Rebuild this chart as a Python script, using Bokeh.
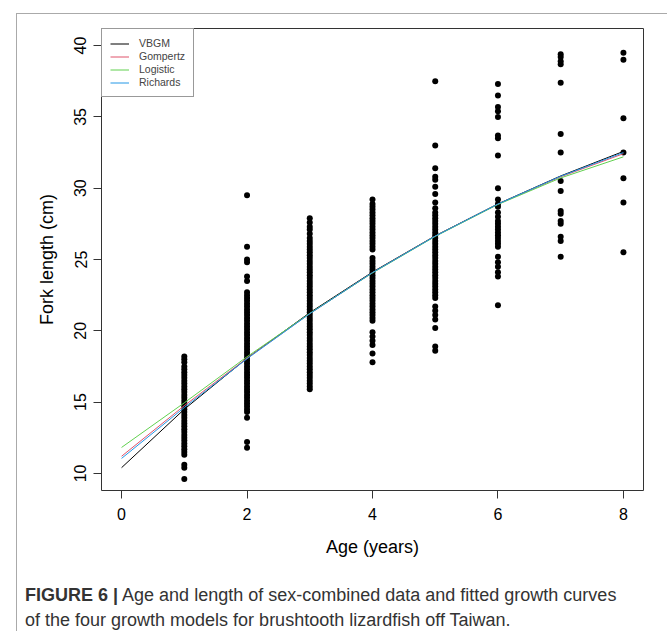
from bokeh.plotting import figure
from bokeh.layouts import column
from bokeh.models import FixedTicker, Legend, LegendItem, Div
from bokeh.embed import file_html
from bokeh.resources import INLINE

# ---------------- data ----------------
x_ticks = [0, 2, 4, 6, 8]
y_ticks = [10, 15, 20, 25, 30, 35, 40]

fl_age1 = [18.2, 18.0, 17.8, 17.5, 17.3, 17.1, 16.9, 16.7, 16.5, 16.3, 16.1, 15.9,
           15.7, 15.5, 15.3, 15.1, 14.9, 14.7, 14.5, 14.3, 14.1, 13.9, 13.7, 13.5,
           13.3, 13.1, 12.9, 12.7, 12.5, 12.3, 12.1, 11.9, 11.7, 11.5, 11.3, 10.6,
           10.4, 9.6]
fl_age2 = [29.5, 25.9, 25.0, 24.8, 23.8, 23.5, 22.7, 22.5, 22.3, 22.1, 21.9, 21.7,
           21.5, 21.3, 21.1, 20.9, 20.7, 20.5, 20.3, 20.1, 19.9, 19.7, 19.5, 19.3,
           19.1, 18.9, 18.7, 18.5, 18.3, 18.1, 17.9, 17.7, 17.5, 17.3, 17.1, 16.9,
           16.7, 16.5, 16.3, 16.1, 15.9, 15.7, 15.5, 15.3, 15.1, 14.9, 14.7, 14.5,
           14.3, 13.9, 12.2, 11.8]
fl_age3 = [27.9, 27.6, 27.3, 27.1, 26.8, 26.5, 26.3, 26.1, 25.9, 25.7, 25.5, 25.3,
           25.1, 24.9, 24.7, 24.5, 24.3, 24.1, 23.9, 23.7, 23.5, 23.3, 23.1, 22.9,
           22.7, 22.5, 22.3, 22.1, 21.9, 21.7, 21.5, 21.3, 21.1, 20.9, 20.7, 20.5,
           20.3, 20.1, 19.9, 19.7, 19.5, 19.3, 19.1, 18.9, 18.7, 18.5, 18.3, 18.1,
           17.9, 17.7, 17.5, 17.3, 17.1, 16.9, 16.7, 16.5, 16.3, 16.1, 15.9]
fl_age4 = [29.2, 28.9, 28.7, 28.5, 28.3, 28.1, 27.9, 27.7, 27.5, 27.3, 27.1, 26.9,
           26.7, 26.5, 26.3, 26.1, 25.9, 25.7, 25.1, 24.9, 24.7, 24.5, 24.3, 24.1,
           23.9, 23.7, 23.5, 23.3, 23.1, 22.9, 22.7, 22.5, 22.3, 22.1, 21.9, 21.7,
           21.5, 21.3, 21.1, 20.9, 20.7, 19.9, 19.6, 19.3, 19.0, 18.4, 17.8]
fl_age5 = [37.5, 33.0, 31.4, 30.8, 30.6, 30.1, 29.6, 29.0, 28.6, 28.3, 28.1, 27.9,
           27.7, 27.5, 27.3, 27.1, 26.9, 26.7, 26.5, 26.3, 26.1, 25.9, 25.7, 25.5,
           25.3, 25.1, 24.9, 24.7, 24.5, 24.3, 24.1, 23.9, 23.7, 23.5, 23.3, 23.1,
           22.9, 22.7, 22.5, 22.3, 21.7, 21.4, 21.1, 20.8, 20.2, 18.9, 18.6]
fl_age6 = [37.3, 36.5, 35.7, 35.4, 35.0, 33.7, 33.5, 32.3, 30.0, 29.2, 28.9, 28.7,
           28.3, 28.0, 27.7, 27.5, 27.3, 27.1, 26.9, 26.7, 26.5, 26.3, 26.1, 25.9,
           25.2, 24.8, 24.5, 24.1, 23.8, 21.8]
fl_age7 = [39.4, 39.2, 38.9, 38.7, 37.4, 33.8, 32.5, 30.5, 29.8, 28.4, 28.2, 27.7,
           27.5, 26.6, 26.3, 25.2]
fl_age8 = [39.5, 39.0, 34.9, 32.5, 30.7, 29.0, 25.5]

obs_groups = [(1, fl_age1), (2, fl_age2), (3, fl_age3), (4, fl_age4),
              (5, fl_age5), (6, fl_age6), (7, fl_age7), (8, fl_age8)]

curve_age = [0, 1, 2, 3, 4, 5, 6, 7, 8]
vbgm = [10.40, 14.50, 18.08, 21.27, 24.12, 26.66, 28.90, 30.86, 32.58]
gompertz = [11.20, 14.75, 18.08, 21.20, 24.08, 26.64, 28.88, 30.80, 32.42]
logistic = [11.82, 14.95, 18.18, 21.22, 24.06, 26.62, 28.86, 30.72, 32.20]
richards = [11.05, 14.62, 18.04, 21.20, 24.08, 26.64, 28.89, 30.84, 32.50]

series_names = ["VBGM", "Gompertz", "Logistic", "Richards"]
series_values = [vbgm, gompertz, logistic, richards]
series_colors = ["#000000", "#DF536B", "#61D04F", "#2297E6"]

caption_bold = "FIGURE 6 |"
caption_line1 = "Age and length of sex-combined data and fitted growth curves"
caption_line2 = "of the four growth models for brushtooth lizardfish off Taiwan."

# ---------------- layout ----------------
FONT = "Liberation Sans"
W, H = 649, 556
FL, FR, FT, FB = 84, 626, 14, 476          # plot frame inside the canvas (px)

p = figure(width=W, height=H, x_range=(-0.32, 8.32), y_range=(8.8, 41.2),
           output_backend="svg", toolbar_location=None,
           min_border_left=FL, min_border_right=W - FR,
           min_border_top=FT, min_border_bottom=H - FB,
           background_fill_color="white", border_fill_color="white")
p.grid.visible = False
p.outline_line_color = "#333333"
p.outline_line_width = 1

for ax in (p.xaxis[0], p.yaxis[0]):
    ax.axis_line_color = None
    ax.major_tick_out = 8
    ax.major_tick_in = 0
    ax.minor_tick_out = 0
    ax.minor_tick_in = 0
    ax.major_tick_line_color = "#333333"
    ax.major_label_text_font = FONT
    ax.major_label_text_font_size = "16px"
    ax.major_label_text_color = "black"
    ax.axis_label_text_font = FONT
    ax.axis_label_text_font_size = "18px"
    ax.axis_label_text_font_style = "normal"
    ax.axis_label_text_color = "black"

p.xaxis.ticker = FixedTicker(ticks=x_ticks)
p.yaxis.ticker = FixedTicker(ticks=y_ticks)
p.xaxis.axis_label = "Age (years)"
p.yaxis.axis_label = "Fork length (cm)"
p.yaxis.major_label_orientation = "vertical"
p.xaxis.major_label_standoff = 9
p.yaxis.major_label_standoff = 7
p.xaxis.axis_label_standoff = 14
p.yaxis.axis_label_standoff = 15

# observations
ages, lengths = [], []
for a, vals in obs_groups:
    ages += [a] * len(vals)
    lengths += vals
p.scatter(ages, lengths, size=6, marker="circle", fill_color="black", line_color=None)

# fitted curves
items = []
for name, vals, col in zip(series_names, series_values, series_colors):
    r = p.line(curve_age, vals, line_color=col, line_width=1)
    items.append(LegendItem(label=name, renderers=[r]))

legend = Legend(items=items, location="top_left", margin=0, padding=8, spacing=1,
                glyph_width=19, glyph_height=11, label_height=11, label_standoff=10,
                label_text_font=FONT, label_text_font_size="10.5px",
                border_line_color="#333333", border_line_width=1,
                background_fill_color="white", background_fill_alpha=1.0)
p.add_layout(legend)

caption_html = ('<span style="font-weight:bold">%s</span> %s<br>%s'
                % (caption_bold, caption_line1, caption_line2))
cap = Div(text=caption_html, width=W, height=61,
          styles={"font-family": FONT, "font-size": "18px", "line-height": "25px",
                  "color": "#333333", "padding-left": "3px", "padding-top": "8px",
                  "white-space": "nowrap", "background-color": "white"})

root = column(p, cap, spacing=0, margin=(13, 0, 0, 16),
              styles={"border-top": "1px solid #aaaaaa",
                      "border-left": "1px solid #aaaaaa",
                      "border-right": "1px solid #aaaaaa"})

open("out.html", "w").write(file_html(root, INLINE))
